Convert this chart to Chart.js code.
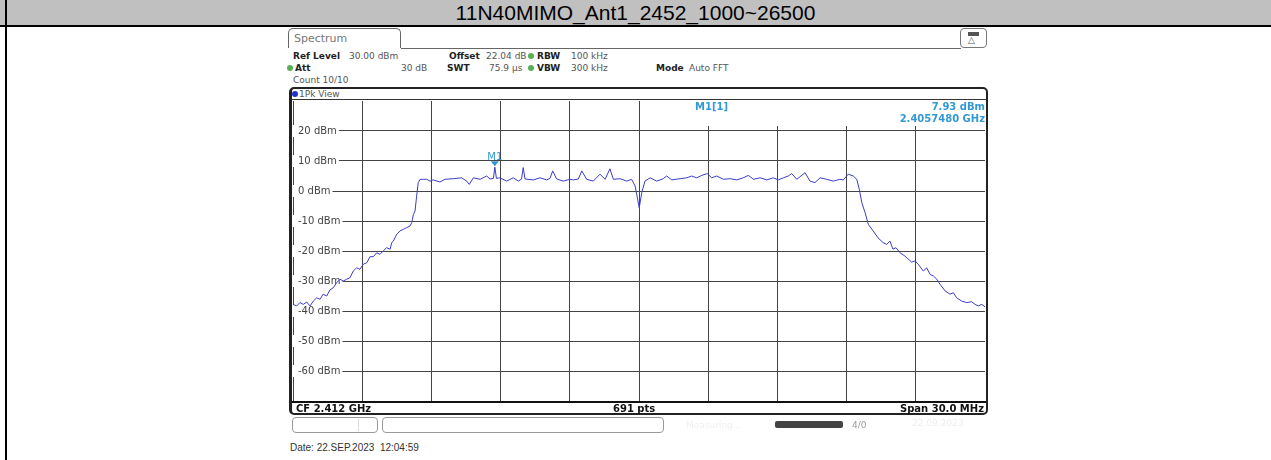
<!DOCTYPE html>
<html>
<head>
<meta charset="utf-8">
<script src="https://cdn.jsdelivr.net/npm/chart.js@4"></script>
<style>
body { margin: 0; width: 1271px; height: 460px; background: #fff; position: relative; overflow: hidden; font-family: "DejaVu Sans", sans-serif; }
.abs { position: absolute; white-space: nowrap; }
#title { left: 0; top: 0; width: 1271px; height: 25px; background: #c0c0c0; border-bottom: 2px solid #000; text-align: center; font: 21px "Liberation Sans", Arial, sans-serif; line-height: 25px; color: #000; }
#leftline { left: 5px; top: 0; width: 2px; height: 460px; background: #000; }
.lbl { font-size: 9px; line-height: 12px; }
.b { font-weight: bold; color: #222; }
.v { color: #555; }
.dot { width: 6px; height: 6px; border-radius: 50%; background: #55b055; }
#tab { left: 288px; top: 28px; width: 113px; height: 20px; border: 1px solid #666; border-bottom: none; border-radius: 5px 5px 0 0; font-size: 11px; line-height: 20px; color: #777; padding-left: 5px; box-sizing: border-box; }
#win { left: 289px; top: 87px; width: 699px; height: 328px; border: 2px solid #222; border-left-width: 3px; border-radius: 5px; box-sizing: border-box; }
#chart { position: absolute; left: 283px; top: 95px; }
#minfo { left: 641px; top: 100px; width: 344px; height: 26px; background: #fff; }
.mk { color: #3399d6; font-weight: bold; font-size: 10px; line-height: 12px; }
.cf { font-size: 10px; font-weight: bold; line-height: 10px; color: #111; }
.box { border: 1px solid #999; border-radius: 4px; box-sizing: border-box; }
</style>
</head>
<body>
<div class="abs" id="title">11N40MIMO_Ant1_2452_1000~26500</div>
<div class="abs" id="leftline"></div>

<div class="abs" id="tab">Spectrum</div>
<div class="abs" style="left:401px;top:48px;width:560px;height:1px;background:#666"></div>
<div class="abs box" style="left:960px;top:28px;width:27px;height:20px;border-color:#777">
  <div class="abs" style="left:7px;top:3px;width:11px;height:4px;background:#555"></div>
  <div class="abs" style="left:7px;top:6px;font-size:9px;color:#555">△</div>
</div>

<div class="abs lbl b" style="left:293px;top:50px">Ref Level</div>
<div class="abs lbl v" style="left:349px;top:50px">30.00 dBm</div>
<div class="abs lbl b" style="left:449px;top:50px">Offset</div>
<div class="abs lbl v" style="left:486px;top:50px">22.04 dB</div>
<div class="abs dot" style="left:528px;top:53px"></div>
<div class="abs lbl b" style="left:537px;top:50px">RBW</div>
<div class="abs lbl v" style="left:571px;top:50px">100 kHz</div>

<div class="abs dot" style="left:287px;top:65px"></div>
<div class="abs lbl b" style="left:295px;top:62px">Att</div>
<div class="abs lbl v" style="left:401px;top:62px">30 dB</div>
<div class="abs lbl b" style="left:447px;top:62px">SWT</div>
<div class="abs lbl v" style="left:489px;top:62px">75.9 µs</div>
<div class="abs dot" style="left:528px;top:65px"></div>
<div class="abs lbl b" style="left:537px;top:62px">VBW</div>
<div class="abs lbl v" style="left:571px;top:62px">300 kHz</div>
<div class="abs lbl b" style="left:656px;top:62px">Mode</div>
<div class="abs lbl v" style="left:689px;top:62px">Auto FFT</div>

<div class="abs lbl v" style="left:293px;top:74px">Count 10/10</div>

<div class="abs" id="win"></div>
<div class="abs dot" style="left:292px;top:91px;background:#1f35c8"></div>
<div class="abs lbl v" style="left:299px;top:88px">1Pk View</div>
<div class="abs" style="left:292px;top:99px;width:694px;height:1px;background:#333"></div>

<canvas id="chart" width="703" height="312"></canvas>

<div class="abs" id="minfo"></div>
<div class="abs mk" style="left:695px;top:101px">M1[1]</div>
<div class="abs mk" style="right:286px;top:101px">7.93 dBm</div>
<div class="abs mk" style="right:286px;top:113px">2.4057480 GHz</div>

<div class="abs" style="left:292px;top:401px;width:694px;height:2px;background:#111"></div>
<div class="abs cf" style="left:296px;top:404px">CF 2.412 GHz</div>
<div class="abs cf" style="left:613px;top:404px">691 pts</div>
<div class="abs cf" style="right:287px;top:404px">Span 30.0 MHz</div>

<div class="abs box" style="left:292px;top:417px;width:86px;height:16px"></div>
<div class="abs" style="left:358px;top:419px;width:1px;height:12px;background:#ddd"></div>
<div class="abs box" style="left:382px;top:417px;width:282px;height:16px"></div>
<div class="abs lbl" style="left:686px;top:419px;color:#f0f0f0">Measuring...</div>
<div class="abs" style="left:775px;top:421px;width:68px;height:7px;background:#444;border-radius:2px"></div>
<div class="abs lbl" style="left:852px;top:419px;color:#999;font-size:9px">4/0</div>
<div class="abs lbl" style="left:912px;top:417px;color:#eee;font-size:9px">22.09.2023</div>

<div class="abs" style="left:290px;top:442px;font:10px 'Liberation Sans', Arial, sans-serif;color:#333">Date: 22.SEP.2023&nbsp; 12:04:59</div>

<script>
// trace (MHz, dBm)
let freqMHz = [
  2397.00, 2397.16, 2397.30, 2397.45, 2397.59, 2397.74, 2397.88, 2398.03, 2398.17, 2398.31,
  2398.46, 2398.60, 2398.75, 2398.89, 2399.04, 2399.18, 2399.33, 2399.47, 2399.61, 2399.76,
  2399.90, 2400.05, 2400.20, 2400.34, 2400.48, 2400.63, 2400.77, 2400.91, 2401.06, 2401.21,
  2401.28, 2401.35, 2401.50, 2401.64, 2401.78, 2401.93, 2402.07, 2402.15, 2402.22, 2402.29,
  2402.36, 2402.43, 2402.51, 2402.65, 2402.80, 2402.94,
  2403.08, 2403.37, 2403.59, 2403.95, 2404.31, 2404.53, 2404.64, 2404.82, 2405.11, 2405.40,
  2405.54, 2405.69, 2405.75, 2405.82, 2405.97, 2406.26, 2406.55, 2406.77, 2406.91, 2406.98,
  2407.06, 2407.42, 2407.71, 2408.00, 2408.14, 2408.26, 2408.43, 2408.72, 2409.01, 2409.15,
  2409.37, 2409.52, 2409.73, 2410.02, 2410.31, 2410.53, 2410.74, 2410.89, 2411.18, 2411.47,
  2411.68, 2411.83, 2411.91, 2412.01, 2412.12, 2412.26, 2412.48, 2412.77, 2413.05, 2413.20,
  2413.42, 2413.78, 2414.07, 2414.28, 2414.50, 2414.72, 2414.96, 2415.15, 2415.37, 2415.66,
  2415.95, 2416.24, 2416.52, 2416.74, 2416.96, 2417.25, 2417.54, 2417.82, 2418.04, 2418.26,
  2418.47, 2418.62, 2418.84, 2419.20, 2419.41, 2419.63, 2419.85, 2420.14, 2420.42, 2420.71,
  2420.86, 2421.07, 2421.29, 2421.44, 2421.55, 2421.66, 2421.80, 2421.94, 2422.15, 2422.36,
  2422.58, 2422.74, 2422.88, 2423.01, 2423.14, 2423.32, 2423.53, 2423.82, 2423.97, 2424.10,
  2424.33, 2424.47, 2424.62, 2424.76, 2424.91, 2425.05, 2425.27, 2425.48, 2425.63, 2425.77,
  2425.99, 2426.21, 2426.42, 2426.57, 2426.71, 2426.86, 2427.00
];
let levelDbm = [
  -37.8, -38.3, -37.2, -37.8, -37.0, -38.3, -36.7, -35.6, -36.1, -34.4,
  -35.0, -33.0, -32.2, -30.6, -29.4, -30.0, -29.4, -28.9, -26.7, -25.6,
  -26.1, -24.4, -23.9, -21.9, -21.9, -20.6, -21.1, -20.0, -18.9, -19.4,
  -17.2, -16.7, -14.4, -13.3, -12.8, -12.2, -11.7, -10.5, -7.8, -6.7,
  -1.7, 2.8, 3.9, 3.9, 3.9, 3.3,
  3.7, 3.0, 3.9, 4.1, 4.4, 3.3, 2.2, 4.4, 3.9, 5.0,
  4.0, 4.2, 7.93, 4.2, 4.4, 3.3, 4.4, 3.3, 4.0, 7.8,
  4.0, 3.7, 4.4, 3.7, 4.2, 6.7, 4.0, 3.3, 3.9, 3.7,
  4.0, 6.7, 3.9, 3.3, 5.6, 3.9, 7.4, 3.9, 4.1, 3.3,
  3.9, 1.7, -1.5, -5.6, -0.5, 3.3, 4.4, 3.3, 4.1, 5.0,
  3.7, 4.1, 4.4, 5.0, 4.4, 5.2, 5.8, 4.4, 5.0, 3.9,
  4.1, 3.7, 4.4, 5.2, 3.9, 4.4, 3.7, 4.4, 3.7, 4.4,
  5.0, 5.8, 3.9, 6.1, 3.3, 2.8, 4.4, 3.9, 3.3, 3.9,
  3.7, 5.6, 5.0, 3.9, 0.6, -3.9, -7.2, -11.1, -13.3, -15.6,
  -17.2, -17.8, -16.7, -19.4, -18.9, -20.6, -21.7, -23.7, -23.3, -24.4,
  -26.7, -25.6, -27.8, -28.3, -29.4, -31.1, -33.3, -34.4, -33.9, -35.6,
  -36.7, -37.2, -36.9, -37.8, -38.3, -37.8, -38.6
];

// marker M1
let markerName = ["M1"];
let markerFreq = [2405.748];
let markerLevel = [7.93];

// axis
let centerMHz = 2412;
let spanMHz = 30;
let refLevel = 30;
let yDivs = 10;

// where the grid sits on the page
let plotLeft = 293, plotTop = 101, plotW = 692, plotH = 300;

let trace = freqMHz.map((f, i) => { return { x: f, y: levelDbm[i] } });

// draw marker triangle + name above the peak
let markerPlugin = {
    id: "marker",
    afterDatasetsDraw(chart) {
        let ctx = chart.ctx;
        let xs = chart.scales.x;
        let ys = chart.scales.y;
        for (let i in markerFreq) {
            let px = xs.getPixelForValue(markerFreq[i]);
            let py = ys.getPixelForValue(markerLevel[i]);
            ctx.save();
            ctx.fillStyle = "#2f95d8";
            ctx.beginPath();
            ctx.moveTo(px - 4, py - 6);
            ctx.lineTo(px + 4, py - 6);
            ctx.lineTo(px, py - 1);
            ctx.closePath();
            ctx.fill();
            ctx.font = "10px 'DejaVu Sans'";
            ctx.fillStyle = "#3399d6";
            ctx.textAlign = "center";
            ctx.textBaseline = "alphabetic";
            ctx.fillText(markerName[i], px, py - 7);
            ctx.restore();
        }
    }
};

function makeChart(canvas) {
    return new Chart(canvas, {
        type: "line",
        data: {
            datasets: [{
                data: trace,
                borderColor: "#3b3bcc",
                borderWidth: 1,
                pointRadius: 0,
                tension: 0
            }]
        },
        options: {
            responsive: false,
            maintainAspectRatio: false,
            animation: false,
            layout: { padding: 0 },
            plugins: {
                legend: { display: false },
                tooltip: { enabled: false }
            },
            scales: {
                x: {
                    type: "linear",
                    min: centerMHz - spanMHz / 2,
                    max: centerMHz + spanMHz / 2,
                    ticks: { display: false, stepSize: spanMHz / 10 },
                    grid: { color: "#444", drawTicks: false },
                    border: { display: false }
                },
                y: {
                    min: refLevel - 10 * yDivs,
                    max: refLevel,
                    ticks: {
                        stepSize: 10,
                        mirror: true,
                        padding: 5,
                        color: "#444",
                        font: { family: "DejaVu Sans", size: 10 },
                        showLabelBackdrop: true,
                        backdropColor: "#fff",
                        backdropPadding: { left: 6, right: 2, top: 0, bottom: 0 },
                        callback: (v) => { return (v >= refLevel || v <= refLevel - 10 * yDivs) ? null : v + " dBm" }
                    },
                    grid: { color: "#444", drawTicks: false },
                    border: { display: false }
                }
            }
        },
        plugins: [markerPlugin]
    });
}

// first pass to learn the axis padding, then size the canvas so the grid lands on the frame
let canvas = document.getElementById("chart");
let chart = makeChart(canvas);
let a = chart.chartArea;
let gapL = a.left, gapT = a.top, gapR = chart.width - a.right, gapB = chart.height - a.bottom;
chart.destroy();
canvas.width = plotW + gapL + gapR;
canvas.height = plotH + gapT + gapB;
canvas.style.left = (plotLeft - gapL) + "px";
canvas.style.top = (plotTop - gapT) + "px";
chart = makeChart(canvas);
</script>
</body>
</html>
